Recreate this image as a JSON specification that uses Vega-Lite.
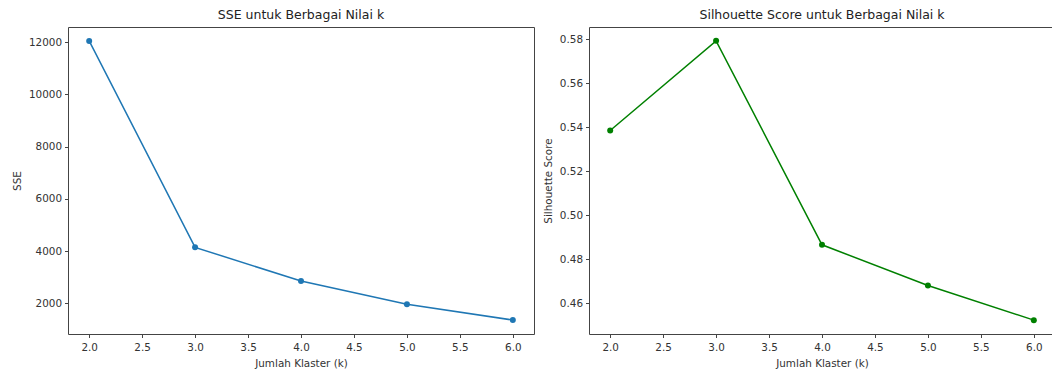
{
  "$schema": "https://vega.github.io/schema/vega-lite/v6.json",
  "background": "white",
  "padding": {"left": 11, "top": 8, "right": 0, "bottom": 0},
  "datasets": {
    "sse": [
      {"k": 2, "sse": 12050},
      {"k": 3, "sse": 4140},
      {"k": 4, "sse": 2850},
      {"k": 5, "sse": 1960},
      {"k": 6, "sse": 1355}
    ],
    "sil": [
      {"k": 2, "score": 0.5385},
      {"k": 3, "score": 0.5792},
      {"k": 4, "score": 0.4866},
      {"k": 5, "score": 0.4681},
      {"k": 6, "score": 0.4524}
    ]
  },
  "spacing": 7,
  "hconcat": [
    {
      "width": 466,
      "height": 307,
      "title": "SSE untuk Berbagai Nilai k",
      "data": {"name": "sse"},
      "mark": {"type": "line", "color": "#1f77b4", "strokeWidth": 1.5, "point": {"filled": true, "size": 36, "color": "#1f77b4"}},
      "encoding": {
        "x": {"field": "k", "type": "quantitative", "scale": {"domain": [1.8, 6.2], "nice": false, "zero": false}, "axis": {"title": "Jumlah Klaster (k)", "values": [2, 2.5, 3, 3.5, 4, 4.5, 5, 5.5, 6], "format": ".1f"}},
        "y": {"field": "sse", "type": "quantitative", "scale": {"domain": [820, 12585], "nice": false, "zero": false}, "axis": {"title": "SSE", "values": [2000, 4000, 6000, 8000, 10000, 12000], "format": "d"}}
      }
    },
    {
      "width": 466,
      "height": 307,
      "title": "Silhouette Score untuk Berbagai Nilai k",
      "data": {"name": "sil"},
      "mark": {"type": "line", "color": "green", "strokeWidth": 1.5, "point": {"filled": true, "size": 36, "color": "green"}},
      "encoding": {
        "x": {"field": "k", "type": "quantitative", "scale": {"domain": [1.8, 6.2], "nice": false, "zero": false}, "axis": {"title": "Jumlah Klaster (k)", "values": [2, 2.5, 3, 3.5, 4, 4.5, 5, 5.5, 6], "format": ".1f"}},
        "y": {"field": "score", "type": "quantitative", "scale": {"domain": [0.4461, 0.5855], "nice": false, "zero": false}, "axis": {"title": "Silhouette Score", "values": [0.46, 0.48, 0.5, 0.52, 0.54, 0.56, 0.58], "format": ".2f"}}
      }
    }
  ],
  "config": {
    "font": "DejaVu Sans",
    "view": {"stroke": "#444", "strokeWidth": 1},
    "title": {"fontSize": 12.5, "fontWeight": "normal", "color": "#222", "offset": 6, "font": "DejaVu Sans"},
    "axis": {
      "grid": false,
      "domain": false,
      "tickColor": "#444",
      "tickSize": 3.5,
      "tickWidth": 1,
      "labelFontSize": 10.4,
      "labelColor": "#333",
      "labelPadding": 3,
      "titleFontSize": 10.4,
      "titleFontWeight": "normal",
      "titleColor": "#333",
      "labelFont": "DejaVu Sans",
      "titleFont": "DejaVu Sans"
    },
    "axisX": {"titlePadding": 6, "labelPadding": 5},
    "axisY": {"titlePadding": 6}
  }
}
